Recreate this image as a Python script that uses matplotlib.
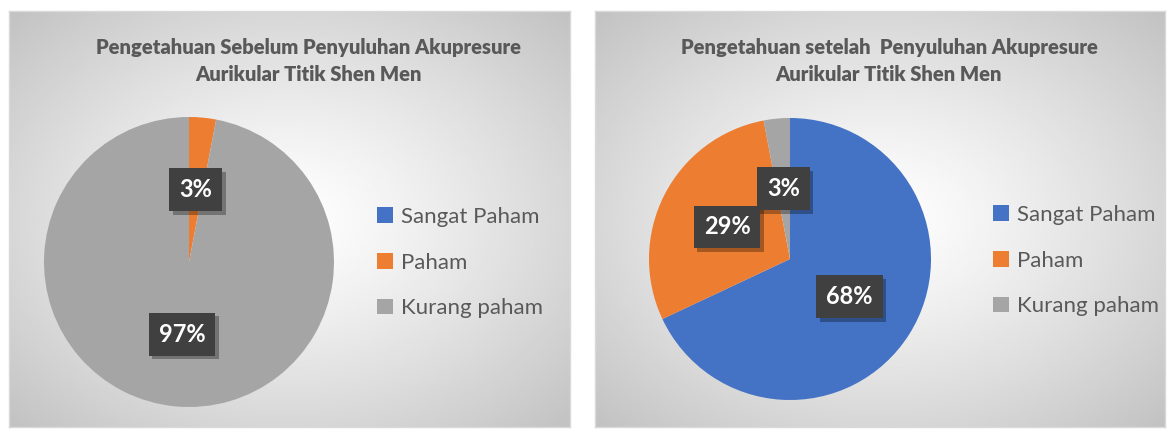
import numpy as np
import matplotlib
matplotlib.use("Agg")
import matplotlib.pyplot as plt
from matplotlib import patheffects as pe

plt.rcParams['font.family'] = ['Lato', 'DejaVu Sans']

categories = ["Sangat Paham", "Paham", "Kurang paham"]
before_values = [0, 3, 97]
after_values = [68, 29, 3]
titles = ["Pengetahuan Sebelum Penyuluhan Akupresure\nAurikular Titik Shen Men",
          "Pengetahuan setelah  Penyuluhan Akupresure\nAurikular Titik Shen Men"]
colors = ["#4472C4", "#ED7D31", "#A5A5A5"]

W, H = 1171, 430
fig = plt.figure(figsize=(W / 100, H / 100), dpi=100)
fig.patch.set_facecolor("white")


def px_rect(x0, y0, x1, y1):
    return [x0 / W, (H - y1) / H, (x1 - x0) / W, (y1 - y0) / H]


def panel(x0, y0, x1, y1):
    ax = fig.add_axes(px_rect(x0, y0, x1, y1))
    nx, ny = 300, 220
    xx, yy = np.meshgrid(np.linspace(-1, 1, nx), np.linspace(-1, 1, ny))
    d = np.sqrt(xx ** 2 + yy ** 2) / np.sqrt(2)
    v = 1.0 - 0.24 * d ** 1.2
    ax.imshow(v, cmap="gray", vmin=0, vmax=1, extent=[0, 1, 0, 1],
              aspect="auto", interpolation="bilinear")
    ax.set_xlim(0, 1)
    ax.set_ylim(0, 1)
    ax.set_xticks([])
    ax.set_yticks([])
    for s in ax.spines.values():
        s.set_color("#d9d9d9")
        s.set_linewidth(1.0)
    return ax


def pie(values, cx, cy, r, legend_xy):
    ax = fig.add_axes(px_rect(cx - r, cy - r, cx + r, cy + r))
    ax.set_facecolor("none")
    wedges, _ = ax.pie(values, colors=colors, startangle=90, counterclock=False,
                       radius=1.0, wedgeprops=dict(linewidth=0))
    ax.set_xlim(-1, 1)
    ax.set_ylim(-1, 1)
    ax.set_aspect("equal")
    ax.axis("off")
    total = float(sum(values))
    theta = 90.0
    for v in values:
        span = 360.0 * v / total
        mid = np.deg2rad(theta - span / 2)
        theta -= span
        if v == 0:
            continue
        t = ax.text(0.5 * np.cos(mid), 0.5 * np.sin(mid), f"{v}%",
                    ha="center", va="center", color="white", fontsize=17,
                    fontweight="bold", zorder=5,
                    bbox=dict(boxstyle="square,pad=0.42", fc="#404040", ec="none"))
        t.get_bbox_patch().set_path_effects(
            [pe.withSimplePatchShadow(offset=(2.5, -2.5), shadow_rgbFace="black", alpha=0.3)])
    lx, ly = legend_xy
    fig.legend(wedges, categories, loc="upper left",
               bbox_to_anchor=(lx / W, (H - ly) / H), frameon=False,
               fontsize=16, labelcolor="#595959", handlelength=0.7,
               handleheight=0.7, handletextpad=0.4, labelspacing=1.15,
               borderpad=0, borderaxespad=0)
    return ax


# left panel
panel(9, 11, 570, 427)
fig.text(309 / W, (H - 61) / H, titles[0], ha="center", va="center",
         fontsize=14.5, fontweight="heavy", color="#595959", linespacing=1.45)
pie(before_values, 189, 262, 145, (377, 207))

# right panel
panel(595, 11, 1165, 427)
fig.text(889 / W, (H - 61) / H, titles[1], ha="center", va="center",
         fontsize=14.5, fontweight="heavy", color="#595959", linespacing=1.45)
pie(after_values, 790, 259, 141, (993, 205))

fig.savefig("out.png", dpi=100)
